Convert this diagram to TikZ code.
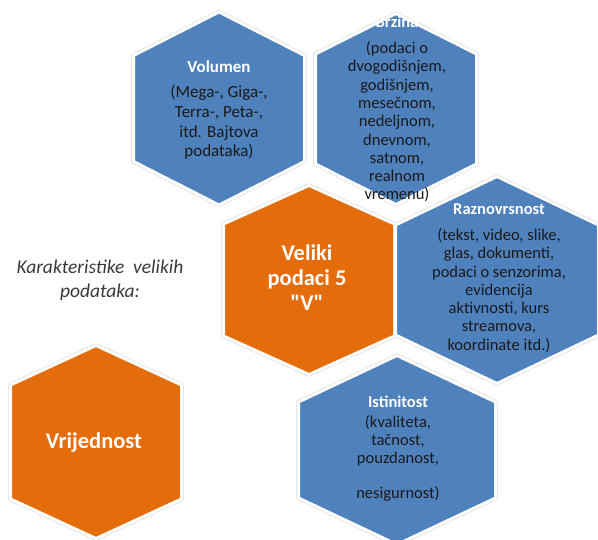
\documentclass[tikz,border=0pt]{standalone}
\usepackage{fontspec}
\setmainfont{Carlito}[Ligatures=TeXOff]
\usepackage{tikz}

\definecolor{hexblue}{HTML}{4F81BD}
\definecolor{hexorange}{HTML}{E46C0A}
\definecolor{bodytext}{HTML}{1A1A1A}
\definecolor{notetext}{HTML}{3A3A3A}

% hexagon: centre x, centre y, half width, half height, half side, colour
\newcommand{\hexpiece}[6]{%
  \draw[gray!30,line width=4.2pt]
    (#1,#2-#4) -- (#1+#3,#2-#5) -- (#1+#3,#2+#5) -- (#1,#2+#4)
    -- (#1-#3,#2+#5) -- (#1-#3,#2-#5) -- cycle;
  \draw[white,line width=3pt,fill=#6]
    (#1,#2-#4) -- (#1+#3,#2-#5) -- (#1+#3,#2+#5) -- (#1,#2+#4)
    -- (#1-#3,#2+#5) -- (#1-#3,#2-#5) -- cycle;
}

\begin{document}
\begin{tikzpicture}[x=1pt,y=-1pt,
  body/.style={align=center,text=bodytext,inner sep=0pt,
    font=\fontsize{16.5}{18.3}\selectfont},
  big/.style={align=center,text=white,inner sep=0pt,
    font=\fontsize{22.5}{25}\selectfont\bfseries}]
  \useasboundingbox (0,0) rectangle (598,540);
  \clip (0,0) rectangle (598,540);

  \hexpiece{219}{108.5}{85.5}{96.5}{53}{hexblue}
  \hexpiece{396}{109}{80.5}{95.5}{55}{hexblue}
  \hexpiece{309}{280}{85.5}{94.5}{56}{hexorange}
  \hexpiece{497}{280}{101.5}{103.5}{55}{hexblue}
  \hexpiece{397}{450}{98.5}{94.5}{48}{hexblue}
  \hexpiece{96}{442}{85.5}{96.5}{57}{hexorange}

  \node[body,font=\fontsize{17}{19.7}\selectfont] (vol) at (219,110)
    {\textcolor{white}{\bfseries Volumen}\\[6pt]
     (Mega-, Giga-,\\ Terra-, Peta-,\\ itd. Bajtova\\ podataka)};
  \node[body] (brz) at (397,109)
    {\textcolor{white}{\bfseries Brzina}\\[8pt]
     (podaci o\\ dvogodišnjem,\\ godišnjem,\\ mesečnom,\\ nedeljnom,\\
     dnevnom,\\ satnom,\\ realnom\\ vremenu)};
  \node[big] (vel) at (307,278) {Veliki\\ podaci 5\\ "V"};
  \node[body] (raz) at (499,278)
    {\textcolor{white}{\bfseries Raznovrsnost}\\[8pt]
     (tekst, video, slike,\\ glas, dokumenti,\\ podaci o senzorima,\\
     evidencija\\ aktivnosti, kurs\\ streamova,\\ koordinate itd.)};
  \node[body] (ist) at (398,449)
    {\textcolor{white}{\bfseries Istinitost}\\[1pt]
     (kvaliteta,\\ tačnost,\\ pouzdanost,\\[17pt] nesigurnost)};
  \node[big] (vri) at (94,443) {Vrijednost};

  \node[align=center,text=notetext,inner sep=0pt,
    font=\fontsize{19.5}{24}\selectfont\itshape] (kar) at (100,280)
    {Karakteristike~~velikih\\ podataka:};
\end{tikzpicture}
\end{document}
